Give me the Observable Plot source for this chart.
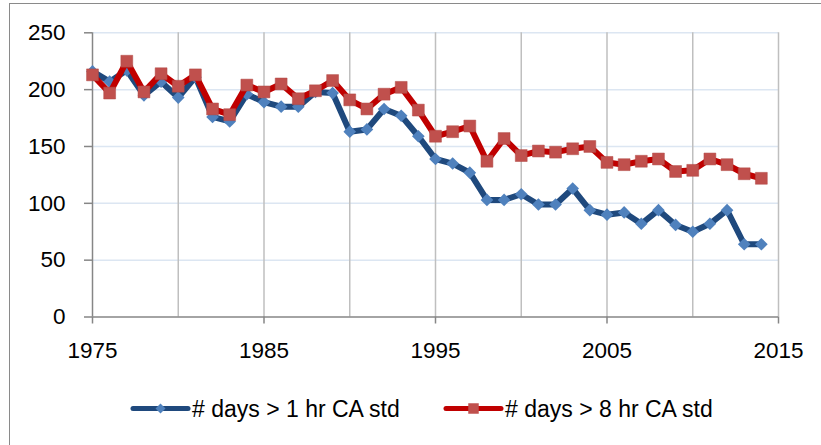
<!DOCTYPE html>
<html>
<head>
<meta charset="utf-8">
<script src="https://cdn.jsdelivr.net/npm/d3@7"></script>
<script src="https://cdn.jsdelivr.net/npm/@observablehq/plot@0.6"></script>
<style>
  html, body { margin: 0; padding: 0; background: white; overflow: hidden; }
  #wrap { position: relative; width: 821px; height: 445px; font-family: "Liberation Sans", Arial, sans-serif; }
  #frame { position: absolute; left: 8.5px; top: 2.5px; width: 900px; height: 600px; border: 1px solid #8a8a8a; box-sizing: border-box; pointer-events: none; }
  #chart svg { display: block; }
  #legend { display: block; }
</style>
</head>
<body>
<div id="wrap">
  <div id="frame"></div>
  <div id="chart"></div>
  <svg id="legend" width="821" height="73"></svg>
</div>
<script>
const years = [1975,1976,1977,1978,1979,1980,1981,1982,1983,1984,1985,1986,1987,1988,1989,1990,1991,1992,1993,1994,1995,1996,1997,1998,1999,2000,2001,2002,2003,2004,2005,2006,2007,2008,2009,2010,2011,2012,2013,2014];
const days1hr = [216,207,217,195,207,193,211,176,172,196,189,185,185,198,197,163,165,183,177,159,139,135,127,103,103,108,99,99,113,94,90,92,82,94,81,75,82,94,64,64];
const days8hr = [213,197,225,198,214,203,213,183,178,204,198,205,192,199,208,191,183,196,202,182,159,163,168,137,157,142,146,145,148,150,136,134,137,139,128,129,139,134,126,122];
const seriesNames = ["# days > 1 hr CA std", "# days > 8 hr CA std"];
const yTicks = [0, 50, 100, 150, 200, 250];
const yGrid = [50, 100, 150, 200, 250];
const xTicks = [1975, 1985, 1995, 2005, 2015];
const xGrid = [1980, 1985, 1990, 1995, 2000, 2005, 2010, 2015];

const s1 = years.map((y, i) => ({year: y, value: days1hr[i]}));
const s2 = years.map((y, i) => ({year: y, value: days8hr[i]}));

const blueLine = "#1f497d", blueMark = "#4f81bd";
const redLine = "#c00000", redMark = "#c0504d";

const H = 372;
const chart = Plot.plot({
  width: 821,
  height: H,
  marginLeft: 92,
  marginRight: 43,
  marginTop: 32.3,
  marginBottom: H - 316.5,
  x: {domain: [1975, 2015]},
  y: {domain: [0, 250]},
  style: {fontFamily: "'Liberation Sans', Arial, sans-serif", fontSize: "22.5px", color: "black", background: "transparent", overflow: "visible"},
  marks: [
    Plot.ruleY(yGrid, {stroke: "#dce6f2", strokeWidth: 1.5}),
    Plot.ruleX(xGrid, {stroke: "#bfbfbf", strokeWidth: 1.5}),
    Plot.ruleX([xTicks[0]], {stroke: "#868686", strokeWidth: 1.5}),
    Plot.ruleY([yTicks[0]], {stroke: "#868686", strokeWidth: 1.5}),
    Plot.axisY({ticks: yTicks, tickSize: 8, tickPadding: 19, stroke: "#868686", strokeWidth: 1.5, label: null, fill: "black"}),
    Plot.axisX({ticks: xTicks, tickSize: 7, tickPadding: 18, tickFormat: d => String(d), stroke: "#868686", strokeWidth: 1.5, label: null, fill: "black"}),
    Plot.line(s1, {x: "year", y: "value", stroke: blueLine, strokeWidth: 6, strokeLinejoin: "round", strokeLinecap: "round"}),
    Plot.dot(s1, {x: "year", y: "value", symbol: "diamond2", r: 5.7, fill: blueMark, stroke: "none"}),
    Plot.line(s2, {x: "year", y: "value", stroke: redLine, strokeWidth: 6, strokeLinejoin: "round", strokeLinecap: "round"}),
    Plot.dot(s2, {x: "year", y: "value", symbol: "square", r: 6.7, fill: redMark, stroke: "#b04844", strokeWidth: 0.5})
  ]
});
document.getElementById("chart").appendChild(chart);

// Legend below the plot
const leg = d3.select("#legend");
const ly = 408.5 - H;
const items = [
  {name: seriesNames[0], x0: 133, x1: 188, tx: 192, line: blueLine, mark: blueMark, sym: d3.symbolDiamond2, size: 64},
  {name: seriesNames[1], x0: 446, x1: 501, tx: 505, line: redLine, mark: redMark, sym: d3.symbolSquare, size: 110}
];
items.forEach(it => {
  leg.append("line").attr("x1", it.x0).attr("x2", it.x1).attr("y1", ly).attr("y2", ly)
    .attr("stroke", it.line).attr("stroke-width", 5).attr("stroke-linecap", "round");
  leg.append("path").attr("d", d3.symbol(it.sym, it.size)()).attr("transform", `translate(${(it.x0 + it.x1) / 2},${ly})`).attr("fill", it.mark);
  leg.append("text").attr("x", it.tx).attr("y", ly).attr("dy", "0.35em")
    .attr("font-family", "'Liberation Sans', Arial, sans-serif").attr("font-size", 23).attr("fill", "black").text(it.name);
});
</script>
</body>
</html>
